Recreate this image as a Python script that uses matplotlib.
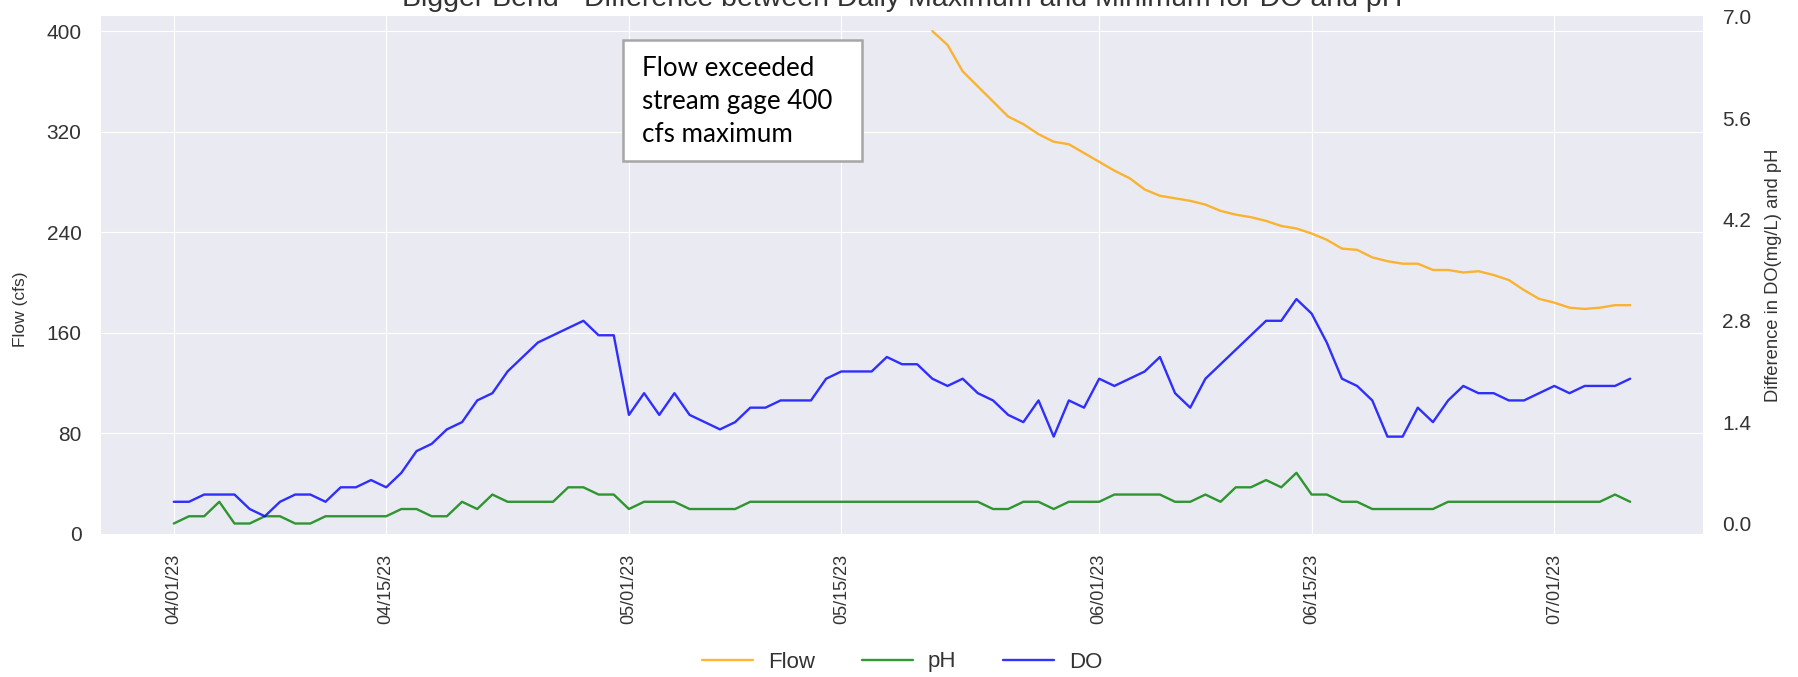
import numpy as np
import pandas as pd
import matplotlib
matplotlib.use('Agg')
import matplotlib.pyplot as plt
import matplotlib.dates as mdates
import matplotlib.patches as patches
import matplotlib.ticker as mticker
import seaborn as sns

# daily values 04/01/23 - 07/06/23
dates = pd.date_range('2023-04-01', '2023-07-06', freq='D')

do_diff = [0.3, 0.3, 0.4, 0.4, 0.4, 0.2, 0.1, 0.3, 0.4, 0.4,
           0.3, 0.5, 0.5, 0.6, 0.5, 0.7, 1.0, 1.1, 1.3, 1.4,
           1.7, 1.8, 2.1, 2.3, 2.5, 2.6, 2.7, 2.8, 2.6, 2.6,
           1.5, 1.8, 1.5, 1.8, 1.5, 1.4, 1.3, 1.4, 1.6, 1.6,
           1.7, 1.7, 1.7, 2.0, 2.1, 2.1, 2.1, 2.3, 2.2, 2.2,
           2.0, 1.9, 2.0, 1.8, 1.7, 1.5, 1.4, 1.7, 1.2, 1.7,
           1.6, 2.0, 1.9, 2.0, 2.1, 2.3, 1.8, 1.6, 2.0, 2.2,
           2.4, 2.6, 2.8, 2.8, 3.1, 2.9, 2.5, 2.0, 1.9, 1.7,
           1.2, 1.2, 1.6, 1.4, 1.7, 1.9, 1.8, 1.8, 1.7, 1.7,
           1.8, 1.9, 1.8, 1.9, 1.9, 1.9, 2.0]

ph_diff = [0.0, 0.1, 0.1, 0.3, 0.0, 0.0, 0.1, 0.1, 0.0, 0.0,
           0.1, 0.1, 0.1, 0.1, 0.1, 0.2, 0.2, 0.1, 0.1, 0.3,
           0.2, 0.4, 0.3, 0.3, 0.3, 0.3, 0.5, 0.5, 0.4, 0.4,
           0.2, 0.3, 0.3, 0.3, 0.2, 0.2, 0.2, 0.2, 0.3, 0.3,
           0.3, 0.3, 0.3, 0.3, 0.3, 0.3, 0.3, 0.3, 0.3, 0.3,
           0.3, 0.3, 0.3, 0.3, 0.2, 0.2, 0.3, 0.3, 0.2, 0.3,
           0.3, 0.3, 0.4, 0.4, 0.4, 0.4, 0.3, 0.3, 0.4, 0.3,
           0.5, 0.5, 0.6, 0.5, 0.7, 0.4, 0.4, 0.3, 0.3, 0.2,
           0.2, 0.2, 0.2, 0.2, 0.3, 0.3, 0.3, 0.3, 0.3, 0.3,
           0.3, 0.3, 0.3, 0.3, 0.3, 0.4, 0.3]

# flow above 400 cfs not recorded before 05/21
flow_start = '2023-05-21'
flow_vals = [400, 389, 368, 356, 344, 332, 326, 318, 312, 310,
             303, 296, 289, 283, 274, 269, 267, 265, 262, 257,
             254, 252, 249, 245, 243, 239, 234, 227, 226, 220,
             217, 215, 215, 210, 210, 208, 209, 206, 202, 194,
             187, 184, 180, 179, 180, 182, 182]

flow = pd.Series(np.nan, index=dates)
flow[flow_start:] = flow_vals
df = pd.DataFrame({'Flow': flow, 'pH': ph_diff, 'DO': do_diff}, index=dates)

sns.set_style('darkgrid', {'grid.linewidth': 1.6})
plt.rcParams['font.family'] = ['Liberation Sans', 'DejaVu Sans']
txt_col = '#333333'

fig = plt.figure(figsize=(17.98, 6.77), dpi=100)
ax = fig.add_axes([0.05617, 0.21123, 0.89099, 0.76514])
ax2 = ax.twinx()

l1, = ax.plot(df.index, df['Flow'], color='orange', alpha=0.8, lw=1.7, label='Flow')
l2, = ax2.plot(df.index, df['pH'], color='green', alpha=0.8, lw=1.7, label='pH')
l3, = ax2.plot(df.index, df['DO'], color='blue', alpha=0.8, lw=1.7, label='DO')

ax.set_ylim(0, 412)
ax.set_yticks([0, 80, 160, 240, 320, 400])
ax2.set_ylim(-0.145, 7.01)
ax2.set_yticks([0, 1.4, 2.8, 4.2, 5.6, 7.0])
ax2.yaxis.set_major_formatter(mticker.FormatStrFormatter('%.1f'))
ax2.grid(False)

ax.xaxis.set_major_locator(mdates.DayLocator(bymonthday=[1, 15]))
ax.xaxis.set_major_formatter(mdates.DateFormatter('%m/%d/%y'))
ax.tick_params(axis='x', labelrotation=90, labelsize=13)

for a in (ax, ax2):
    a.tick_params(pad=14, colors=txt_col, length=0)
    a.tick_params(axis='y', labelsize=15)
    for s in a.spines.values():
        s.set_visible(False)

fig.text(21/1798, 1 - 309/677, 'Flow (cfs)', rotation=90, ha='center', va='center',
         fontsize=12.5, color=txt_col)
fig.text(1774/1798, 1 - 275/677, 'Difference in DO(mg/L) and pH', rotation=90,
         ha='center', va='center', fontsize=13.2, color=txt_col)

fig.text(0.5017, 0.991, 'Bigger Bend - Difference between Daily Maximum and Minimum for DO and pH',
         ha='center', va='baseline', fontsize=20.5, color=txt_col)

# note box
rect = patches.Rectangle((623/1798, 1 - 161/677), (862 - 623)/1798, (161 - 40)/677,
                         transform=fig.transFigure, facecolor='white',
                         edgecolor='#a6a6a6', linewidth=1.8, zorder=5)
fig.add_artist(rect)
note = ['Flow exceeded', 'stream gage 400', 'cfs maximum']
for i, line in enumerate(note):
    t = fig.text(642/1798, 1 - (76 + 33*i)/677, line, fontsize=18.7, family='Lato',
                 va='baseline', ha='left', color='black')
    t.set_zorder(6)

fig.legend([l1, l2, l3], ['Flow', 'pH', 'DO'], loc='center', ncol=3,
           bbox_to_anchor=(0.5017, 15/677), frameon=False, fontsize=16,
           handlelength=2.3, handletextpad=0.68, columnspacing=2.1,
           labelcolor=txt_col)

plt.savefig('out.png', dpi=100)
